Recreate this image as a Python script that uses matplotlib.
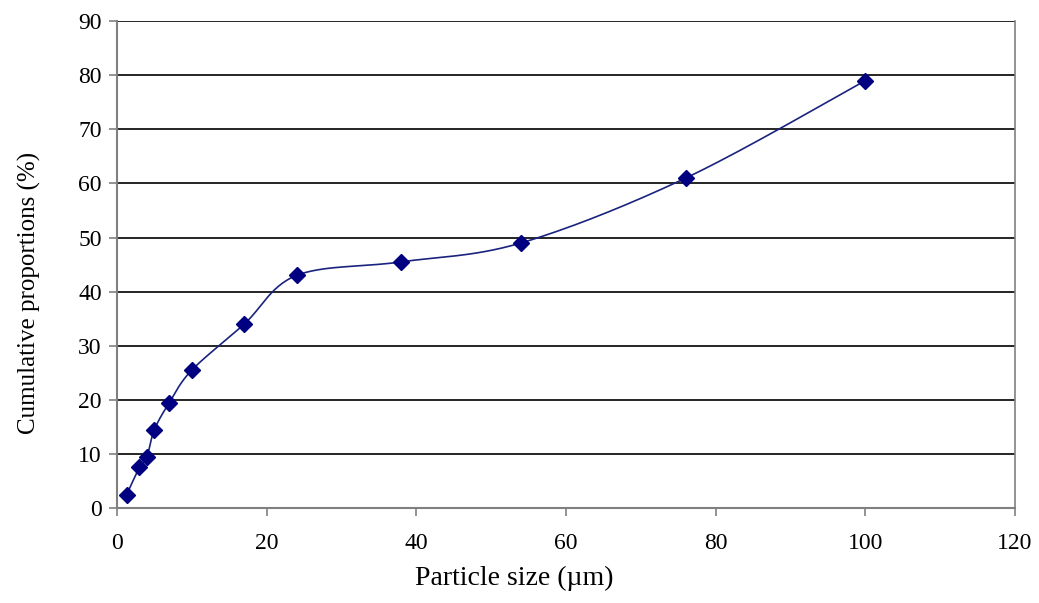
import numpy as np
import matplotlib.pyplot as plt

size_um = [1.3, 3, 4, 5, 7, 10, 17, 24, 38, 54, 76, 100]
cum_pct = [2.5, 7.5, 9.5, 14.5, 19.5, 25.5, 34, 43, 45.5, 49, 61, 79]
x_ticks = [0, 20, 40, 60, 80, 100, 120]
y_ticks = [0, 10, 20, 30, 40, 50, 60, 70, 80, 90]

plt.rcParams['font.family'] = ['Liberation Serif', 'DejaVu Serif']


def smooth(xs, ys, xr, yr, n=30):
    # Excel-like smoothed line: Bezier with control points at 1/6 of neighbour spread
    px = np.array(xs) / xr
    py = np.array(ys) / yr
    pts = np.column_stack([px, py])
    out = []
    for i in range(len(pts) - 1):
        p0 = pts[max(i - 1, 0)]
        p1 = pts[i]
        p2 = pts[i + 1]
        p3 = pts[min(i + 2, len(pts) - 1)]
        c1 = p1 + (p2 - p0) / 6
        c2 = p2 - (p3 - p1) / 6
        t = np.linspace(0, 1, n)[:, None]
        seg = (1 - t) ** 3 * p1 + 3 * (1 - t) ** 2 * t * c1 + 3 * (1 - t) * t ** 2 * c2 + t ** 3 * p2
        out.append(seg)
    out = np.vstack(out)
    return out[:, 0] * xr, out[:, 1] * yr


fig = plt.figure(figsize=(10.39, 6.03), dpi=100)
ax = fig.add_axes([0.1126, 0.1575, 0.977 - 0.1126, 0.965 - 0.1575])

sx, sy = smooth(size_um, cum_pct, 120 * 1.66, 90)
ax.plot(sx, sy, color='#1a237e', lw=1.2, zorder=3)
ax.plot(size_um, cum_pct, ls='none', marker='D', ms=8, color='#000080', zorder=4)

ax.set_xlim(0, 120)
ax.set_ylim(0, 90)
ax.set_xticks(x_ticks)
ax.set_yticks(y_ticks)
ax.yaxis.grid(True, color='black', lw=1.2)
ax.set_axisbelow(True)
for s in ['top', 'right']:
    ax.spines[s].set_visible(False)
for s in ['left', 'bottom']:
    ax.spines[s].set_color('#808080')
    ax.spines[s].set_linewidth(1.5)
ax.plot([120, 120], [0, 90], color='#808080', lw=1.2, clip_on=False, zorder=2)
ax.tick_params(axis='both', direction='out', length=6, width=1.2, color='#808080',
               labelsize=17)
ax.tick_params(axis='x', pad=12)
ax.tick_params(axis='y', pad=5)

fig.text(0.495, 0.02, 'Particle size (µm)', fontsize=20, ha='center', va='bottom')
fig.text(0.028, 0.515, 'Cumulative proportions (%)', fontsize=18, ha='center', va='center',
         rotation=90)

fig.savefig('out.png', dpi=100)
